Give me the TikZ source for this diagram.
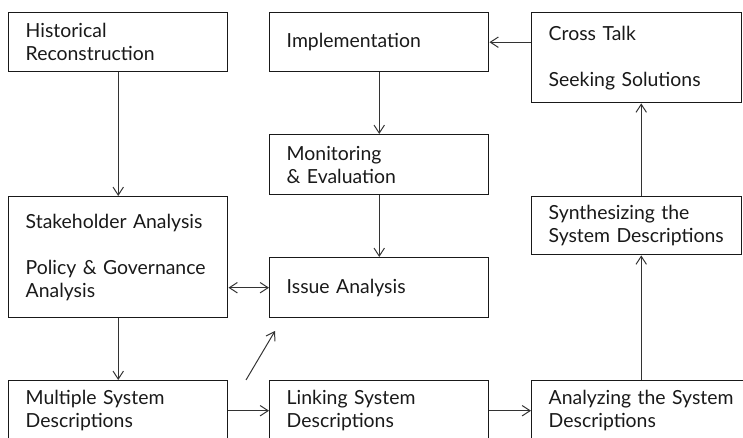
\documentclass[tikz,border=0pt]{standalone}
\usepackage{fontspec}
\setmainfont{Lato}
\usetikzlibrary{arrows.meta}
\begin{document}
\begin{tikzpicture}[x=0.025cm, y=-0.025cm, >={Straight Barb[length=2mm,width=2.6mm]},
    box/.style={draw=black!90, line width=1pt, anchor=north west, inner xsep=0.425cm, inner ysep=0pt,
        align=left, text width=4.625cm, font=\fontsize{13.8}{16.4}\selectfont, text=black!90},
    link/.style={draw=black!80, line width=0.7pt, ->}]
    \useasboundingbox (0,0) rectangle (743,438);
    \clip (0,0) rectangle (743,438);
    \node[box, minimum height=1.475cm] (hist) at (8,12) {Historical\\Reconstruction};
    \node[box, minimum height=1.475cm] (impl) at (269,12) {Implementation};
    \node[box, minimum height=2.25cm, text width=4.4cm] (cross) at (531,12) {Cross Talk\\[16.4pt]Seeking Solutions};
    \node[box, minimum height=1.5cm] (mon) at (269,134) {Monitoring\\\& Evaluation};
    \node[box, minimum height=1.45cm, text width=4.4cm] (synth) at (531,196) {Synthesizing the\\System Descriptions};
    \node[box, minimum height=3.025cm] (stake) at (8,196) {Stakeholder Analysis\\[16.4pt]Policy \& Governance\\Analysis};
    \node[box, minimum height=1.5cm] (issue) at (269,257) {Issue Analysis};
    \node[box, minimum height=1.5cm] (multi) at (8,380) {Multiple System\\Descriptions};
    \node[box, minimum height=1.5cm] (lsd) at (269,380) {Linking System\\Descriptions};
    \node[box, minimum height=1.5cm] (anal) at (531,380) {Analyzing the System\\Descriptions};
    \coordinate (diagA) at (246,380);
    \coordinate (diagB) at (275,331);

    \draw[link] (hist) -- (stake);
    \draw[link] (impl) -- (mon);
    \draw[link] (mon) -- (issue);
    \draw[link] (cross.west |- impl.east) -- (impl.east);
    \draw[link] (anal.north) -- (anal.north |- synth.south);
    \draw[link] (synth.north -| anal.north) -- (cross.south -| anal.north);
    \draw[link, <->] (stake.east |- issue.west) -- (issue.west);
    \draw[link] (stake) -- (multi);
    \draw[link] (multi) -- (lsd);
    \draw[link] (lsd) -- (anal);
    \draw[link] (diagA) -- (diagB);
\end{tikzpicture}
\end{document}
